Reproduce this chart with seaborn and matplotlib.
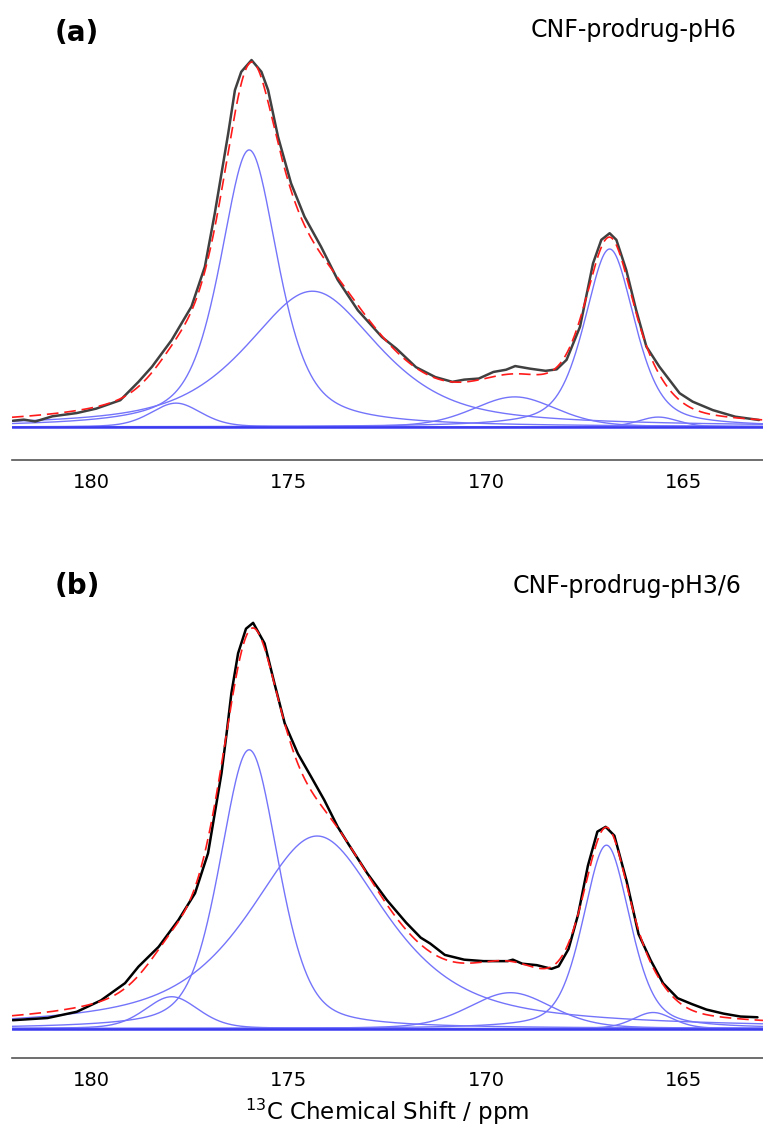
import numpy as np
import matplotlib
matplotlib.use("Agg")
import matplotlib.pyplot as plt
from matplotlib.ticker import MultipleLocator
import seaborn as sns

OUTPUT_IMAGE = "out.png"

# --- panel (a): CNF-prodrug-pH6 -------------------------------------------
# experimental trace, read off the picture (ppm, intensity)
ppm_a = [181.98, 181.7, 181.41, 180.98, 180.36, 179.87, 179.26, 178.80, 178.46,
         177.96, 177.46, 177.12, 176.87, 176.70, 176.53, 176.36, 176.20, 175.94,
         175.69, 175.52, 175.27, 174.94, 174.60, 174.18, 173.76, 173.25, 172.64,
         172.27, 171.78, 171.29, 170.86, 170.56, 170.19, 169.82, 169.50, 169.27,
         168.90, 168.50, 168.22, 167.97, 167.63, 167.30, 167.09, 166.88, 166.71,
         166.46, 166.21, 165.95, 165.62, 165.11, 164.78, 164.27, 163.70, 163.10]
int_a = [1.7, 2.0, 1.5, 2.9, 3.8, 5.0, 7.3, 12.3, 16.4,
         23.7, 32.8, 43.7, 58.2, 69.1, 80.0, 91.8, 96.8, 100.0,
         96.8, 91.8, 79.1, 66.4, 57.3, 49.1, 40.1, 31.8, 24.5,
         21.3, 16.3, 13.6, 12.3, 12.9, 13.2, 15.0, 15.6, 16.6,
         15.9, 15.3, 15.7, 18.3, 27.3, 44.6, 51.0, 52.8, 51.0,
         42.8, 31.9, 21.9, 16.4, 9.2, 6.9, 4.6, 2.8, 1.9]
# fitted components (pseudo-Voigt): centre, height, FWHM, Lorentzian fraction
centers_a = [177.85, 176.00, 174.40, 169.28, 166.88, 165.65]
heights_a = [6.5, 75.5, 37.0, 8.2, 48.5, 2.7]
fwhm_a = [1.5, 1.75, 4.0, 2.5, 1.5, 1.2]
eta_a = [0.3, 0.6, 0.65, 0.3, 0.5, 0.3]

# --- panel (b): CNF-prodrug-pH3/6 -----------------------------------------
ppm_b = [181.98, 181.1, 180.36, 179.75, 179.14, 178.80, 178.29, 177.79, 177.37,
         177.04, 176.87, 176.70, 176.57, 176.45, 176.28, 176.08, 175.90, 175.61,
         175.36, 175.10, 174.77, 174.43, 174.10, 173.76, 173.50, 173.01, 172.52,
         172.03, 171.66, 171.42, 171.05, 170.56, 170.07, 169.46, 169.33, 169.09,
         168.72, 168.35, 168.17, 167.92, 167.68, 167.43, 167.19, 166.98, 166.76,
         166.45, 166.15, 165.84, 165.53, 165.16, 164.80, 164.43, 164.00, 163.57,
         163.14]
int_b = [2.3, 2.9, 4.6, 7.7, 12.4, 16.9, 22.3, 29.6, 36.9,
         47.8, 58.7, 69.6, 80.5, 91.4, 102.3, 109.0, 110.6, 105.0,
         94.1, 83.2, 75.0, 68.6, 62.3, 55.0, 50.5, 42.3, 35.1,
         28.9, 24.8, 23.2, 20.1, 18.8, 18.4, 18.4, 18.8, 17.7,
         17.3, 16.3, 17.0, 21.7, 31.0, 44.4, 53.7, 55.0, 52.6,
         40.2, 25.8, 18.6, 12.4, 8.3, 6.7, 5.2, 4.1, 3.3,
         3.1]
centers_b = [177.96, 176.00, 174.28, 169.39, 166.96, 165.78]
heights_b = [8.7, 76.0, 52.5, 9.8, 50.0, 4.4]
fwhm_b = [1.6, 1.75, 4.2, 2.5, 1.4, 1.2]
eta_b = [0.3, 0.4, 0.75, 0.3, 0.4, 0.3]

XMIN, XMAX = 182.0, 163.0


def pseudo_voigt(x, c, h, w, eta):
    lor = 1.0 / (1.0 + ((x - c) / (w / 2.0)) ** 2)
    gau = np.exp(-4.0 * np.log(2.0) * ((x - c) / w) ** 2)
    return h * (eta * lor + (1.0 - eta) * gau)


def draw_panel(ax, ppm, inten, centers, heights, fwhm, eta, trace_color, ylim):
    grid = np.linspace(XMIN, XMAX, 1200)
    total = np.zeros_like(grid)
    for c, h, w, e in zip(centers, heights, fwhm, eta):
        comp = pseudo_voigt(grid, c, h, w, e)
        total += comp
        sns.lineplot(x=grid, y=comp, ax=ax, color="#7474fb", lw=1.0,
                     estimator=None, sort=False, zorder=2)
    ax.axhline(0, color="#3a3af0", lw=1.8, zorder=3)
    sns.lineplot(x=ppm, y=inten, ax=ax, color=trace_color, lw=1.8,
                 estimator=None, sort=False, zorder=4)
    sns.lineplot(x=grid, y=total, ax=ax, color="#ff1a1a", lw=1.2,
                 estimator=None, sort=False, zorder=5)
    ax.lines[-1].set_dashes([7, 3.5])

    ax.set_xlim(XMIN, XMAX)
    ax.set_ylim(*ylim)
    ax.set_xticks([180, 175, 170, 165])
    ax.xaxis.set_minor_locator(MultipleLocator(1))
    ax.tick_params(axis="x", which="major", direction="out", length=5,
                   width=1, color="#555555", labelcolor="black",
                   labelsize=14, pad=4)
    ax.tick_params(axis="x", which="minor", direction="out", length=2.5,
                   width=1, color="#555555")
    ax.set_yticks([])
    ax.set_ylabel("")
    ax.set_xlabel("")
    sns.despine(ax=ax, left=True, top=True, right=True)
    ax.spines["bottom"].set_color("#555555")
    ax.spines["bottom"].set_linewidth(1.2)


sns.set_theme(style="white")
plt.rcParams["font.family"] = ["DejaVu Sans"]
plt.rcParams["text.color"] = "black"
plt.rcParams["axes.labelcolor"] = "black"

W, H = 763, 1133
fig = plt.figure(figsize=(W / 100, H / 100), dpi=100)

ax_a = fig.add_axes([12 / W, 1 - 460 / H, 1 - 12 / W, (460 - 45) / H])
draw_panel(ax_a, ppm_a, int_a, centers_a, heights_a, fwhm_a, eta_a,
           "#404040", (-9.0, 104.1))

ax_b = fig.add_axes([12 / W, 1 - 1058 / H, 1 - 12 / W, (1058 - 610) / H])
draw_panel(ax_b, ppm_b, int_b, centers_b, heights_b, fwhm_b, eta_b,
           "#000000", (-8.0, 114.1))
ax_b.set_xlabel(r"$^{13}$C Chemical Shift / ppm", fontsize=16.5, labelpad=5)

fig.text(77 / W, 1 - 33 / H, "(a)", fontsize=20, fontweight="bold",
         ha="center", va="center")
fig.text(736 / W, 1 - 30 / H, "CNF-prodrug-pH6", fontsize=17,
         ha="right", va="center")
fig.text(77 / W, 1 - 586 / H, "(b)", fontsize=20, fontweight="bold",
         ha="center", va="center")
fig.text(742 / W, 1 - 586 / H, "CNF-prodrug-pH3/6", fontsize=17,
         ha="right", va="center")

fig.savefig(OUTPUT_IMAGE, dpi=100)
